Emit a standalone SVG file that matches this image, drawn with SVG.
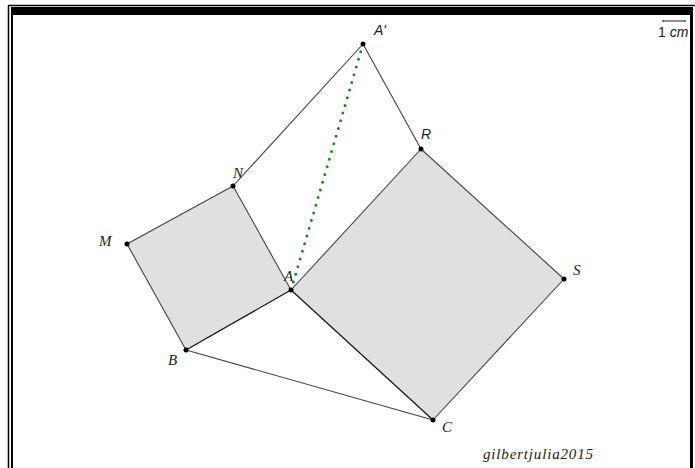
<svg xmlns="http://www.w3.org/2000/svg" width="695" height="468" viewBox="0 0 695 468">
<style>
.sq{fill:#e0e0e0;stroke:none}
.e{stroke:#444;stroke-width:1.1;fill:none}
.d{stroke:#111;stroke-width:1.2;fill:none}
.pt{fill:#000}
.lb{font-family:"Liberation Serif",serif;font-style:italic;font-size:15px;fill:#222}
.ls{font-family:"Liberation Sans",sans-serif;font-style:italic;font-size:14px;fill:#222}
</style>
<rect x="0" y="0" width="695" height="468" fill="#fff"/>
<g id="frame">
<line x1="8.5" y1="5.5" x2="8.5" y2="468" stroke="#000" stroke-width="1.5"/>
<line x1="8" y1="5.5" x2="695" y2="5.5" stroke="#000" stroke-width="1.5"/>
<rect x="11" y="7" width="682" height="8" fill="#000"/>
<line x1="12" y1="7" x2="12" y2="468" stroke="#000" stroke-width="2"/>
<line x1="691.5" y1="7" x2="691.5" y2="468" stroke="#000" stroke-width="3"/>
</g>
<g id="scale">
<line x1="663" y1="21" x2="685" y2="21" stroke="#222" stroke-width="1"/>
<line x1="663" y1="20" x2="663" y2="22" stroke="#222" stroke-width="1"/>
<line x1="685" y1="20" x2="685" y2="22" stroke="#222" stroke-width="1"/>
<text x="658" y="37" font-family="Liberation Sans,sans-serif" font-size="14" fill="#222">1 <tspan font-style="italic">cm</tspan></text>
</g>
<g id="square-ANMB">
<polygon class="sq" points="291,290 233,186 127,244 186,350"/>
<line class="e" x1="291" y1="290" x2="233" y2="186"/>
<line class="e" x1="233" y1="186" x2="127" y2="244"/>
<line class="e" x1="127" y1="244" x2="186" y2="350"/>
<line class="d" x1="186" y1="350" x2="291" y2="290"/>
</g>
<g id="square-ARSC">
<polygon class="sq" points="291,290 421,149 564,279 433,420"/>
<line class="e" x1="291" y1="290" x2="421" y2="149"/>
<line class="e" x1="421" y1="149" x2="564" y2="279"/>
<line class="e" x1="564" y1="279" x2="433" y2="420"/>
<line class="d" x1="433" y1="420" x2="291" y2="290"/>
</g>
<g id="connectors">
<line class="e" x1="233" y1="186" x2="363" y2="44"/>
<line class="e" x1="363" y1="44" x2="421" y2="149"/>
<line class="e" x1="186" y1="350" x2="433" y2="420"/>
<line x1="363" y1="44" x2="292" y2="287" stroke="#1a8f1a" stroke-width="3" stroke-dasharray="0 8" stroke-linecap="round"/>
</g>
<g id="points">
<circle class="pt" cx="363" cy="44" r="2.5"/>
<circle class="pt" cx="421" cy="149" r="2.5"/>
<circle class="pt" cx="564" cy="279" r="2.5"/>
<circle class="pt" cx="433" cy="420" r="2.5"/>
<circle class="pt" cx="291" cy="290" r="2.5"/>
<circle class="pt" cx="233" cy="186" r="2.5"/>
<circle class="pt" cx="127" cy="244" r="2.5"/>
<circle class="pt" cx="186" cy="350" r="2.5"/>
</g>
<g id="labels">
<text class="ls" x="374" y="35">A'</text>
<text class="ls" x="421" y="139">R</text>
<text class="lb" x="573" y="275">S</text>
<text class="lb" x="442" y="432">C</text>
<text class="lb" x="284" y="281">A</text>
<text class="lb" x="233" y="178">N</text>
<text class="lb" x="99" y="246">M</text>
<text class="lb" x="168" y="365">B</text>
<text class="lb" x="483" y="459" textLength="110" font-size="16">gilbertjulia2015</text>
</g>
</svg>
